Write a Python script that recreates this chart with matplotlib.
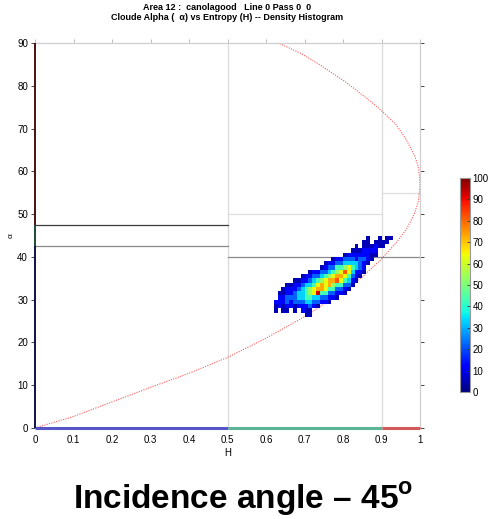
import numpy as np
import matplotlib
matplotlib.use("Agg")
import matplotlib.pyplot as plt

plt.rcParams['font.family'] = ['Liberation Sans', 'DejaVu Sans']
plt.rcParams['mathtext.fontset'] = 'custom'
plt.rcParams['mathtext.rm'] = 'Liberation Sans'
plt.rcParams['mathtext.bf'] = 'Liberation Sans:bold'

# ---- data -------------------------------------------------------------
title_line1 = "Area 12 :  canolagood   Line 0 Pass 0  0"
title_line2 = "Cloude Alpha (  \u03b1) vs Entropy (H) -- Density Histogram"
caption = "Incidence angle \u2013 45"

x_ticks = [0, 0.1, 0.2, 0.3, 0.4, 0.5, 0.6, 0.7, 0.8, 0.9, 1.0]
x_tick_labels = ["0", "0.1", "0.2", "0.3", "0.4", "0.5", "0.6", "0.7", "0.8", "0.9", "1"]
y_ticks = [0, 10, 20, 30, 40, 50, 60, 70, 80, 90]
cbar_ticks = [0, 10, 20, 30, 40, 50, 60, 70, 80, 90, 100]

# feasible-region boundary of the H-alpha plane
boundary_H = [0.0, 0.1, 0.2, 0.3, 0.4, 0.5, 0.6, 0.7, 0.8, 0.85, 0.9,
              0.94, 0.965, 0.985, 0.996, 1.0, 0.997, 0.987, 0.965, 0.939,
              0.902, 0.87, 0.805, 0.74, 0.69, 0.632]
boundary_alpha = [0.0, 2.7, 6.1, 9.5, 12.8, 16.5, 21.0, 26.0, 32.0, 35.3, 39.5,
                  43.5, 46.5, 50.0, 53.0, 56.7, 60.5, 63.5, 67.3, 70.8,
                  74.0, 76.5, 81.0, 84.9, 87.6, 90.0]

# zone boundaries: (H start, H end, alpha, colour)
zone_h_lines = [
    (0.0, 0.5, 47.5, '#3c3c3c'),
    (0.0, 0.5, 42.5, '#8a8a8a'),
    (0.5, 0.9, 50.0, '#dddddd'),
    (0.5, 1.0, 40.0, '#8a8a8a'),
    (0.9, 1.0, 55.0, '#dddddd'),
]
zone_v_lines = [0.5, 0.9]

# density histogram: H bins 0.62..0.93 (0.01), alpha bins 26..45 (1 deg)
hist_H_edges = np.round(np.arange(0.62, 0.9301, 0.01), 3)
hist_alpha_edges = np.arange(26, 46, 1)
# rows listed from alpha 44 down to alpha 26: (first H bin, cell levels)
# '.' empty, digit d -> count level about 10*d (+ a bit)
hist_rows = [
    (24, "0..0.00"),
    (23, "00.0000"),
    (21, "0.000100"),
    (20, "0001111"),
    (18, "011111100"),
    (15, "01122212210"),
    (13, "011223333210"),
    (12, "012244564321"),
    (9, "011223456863110"),
    (7, "0112234567764210"),
    (5, "00112345677864310"),
    (3, "001123346767544220"),
    (2, "011123456776442210"),
    (1, "001123345694422110"),
    (1, "1122233443322110"),
    (0, "111212223322110"),
    (0, "010110111210"),
    (0, "0.00.0.100"),
    (8, "00"),
]
level_value = {'0': 5, '1': 13, '2': 22, '3': 33, '4': 43, '5': 53,
               '6': 63, '7': 73, '8': 82, '9': 92}

# ---- build grid -------------------------------------------------------
n_h = len(hist_H_edges) - 1
n_a = len(hist_alpha_edges) - 1
Z = np.full((n_a, n_h), np.nan)
for i, (start, cells) in enumerate(hist_rows):
    row = n_a - 1 - i
    for j, c in enumerate(cells):
        if c != '.':
            Z[row, start + j] = level_value[c]

# ---- figure -----------------------------------------------------------
fig = plt.figure(figsize=(4.90, 5.19), dpi=100)
ax = fig.add_axes([35 / 490, 1 - 428 / 519, 385 / 490, 385 / 519])
ax.set_xlim(0, 1)
ax.set_ylim(0, 90)

for xv in zone_v_lines:
    ax.plot([xv, xv], [0, 90], color='#dcdcdc', lw=1.0, zorder=1)
for h0, h1, a, col in zone_h_lines:
    ax.plot([h0, h1], [a, a], color=col, lw=0.9, zorder=1)

ax.plot(boundary_H, boundary_alpha, color='#ff2020', lw=0.8,
        linestyle=(0, (1, 1.2)), alpha=0.75, zorder=2)

mesh = ax.pcolormesh(hist_H_edges, hist_alpha_edges, np.ma.masked_invalid(Z),
                     cmap='jet', vmin=0, vmax=100, zorder=3)

# spines
for s in ['top', 'right']:
    ax.spines[s].set_color('#cfcfcf')
    ax.spines[s].set_linewidth(0.9)
ax.spines['left'].set_visible(False)
ax.spines['bottom'].set_visible(False)
# coloured zone indicators along the axes
ax.plot([0, 0.5], [0, 0], color='#5656c8', lw=2.2, clip_on=False, zorder=4, solid_capstyle='butt')
ax.plot([0.5, 0.9], [0, 0], color='#5cb496', lw=2.2, clip_on=False, zorder=4, solid_capstyle='butt')
ax.plot([0.9, 1.0], [0, 0], color='#d25a5a', lw=2.2, clip_on=False, zorder=4, solid_capstyle='butt')
ax.plot([0, 0], [0, 42.5], color='#10104a', lw=1.4, clip_on=False, zorder=4, solid_capstyle='butt')
ax.plot([0, 0], [42.5, 47.5], color='#1a4a3a', lw=1.4, clip_on=False, zorder=4, solid_capstyle='butt')
ax.plot([0, 0], [47.5, 90], color='#4a1010', lw=1.4, clip_on=False, zorder=4, solid_capstyle='butt')

ax.set_xticks(x_ticks)
ax.set_xticklabels(x_tick_labels)
ax.set_yticks(y_ticks)
ax.tick_params(axis='both', labelsize=7, length=3, width=0.7, color='#444444', pad=2)
ax.tick_params(axis='x', top=True, bottom=False, color='#bbbbbb', labeltop=False)
ax.tick_params(axis='y', right=True, left=True)
for t in ax.yaxis.get_ticklines()[1::2]:
    t.set_color('#bbbbbb')

ax.set_xlabel("H", fontsize=7, labelpad=2)
ax.set_ylabel("\u03b1", fontsize=6, labelpad=2)

# colour bar
cax = fig.add_axes([460 / 490, 1 - 392 / 519, 10 / 490, 214 / 519])
cb = fig.colorbar(mesh, cax=cax, ticks=cbar_ticks)
cb.outline.set_edgecolor('#999999')
cb.outline.set_linewidth(0.8)
cax.tick_params(labelsize=7, length=2, width=0.6, direction='in', color='#333333', pad=2)

# titles
fig.text(227 / 490, 1 - 7 / 519, title_line1, ha='center', va='center',
         fontsize=6.5, fontweight='bold')
fig.text(227 / 490, 1 - 17 / 519, title_line2, ha='center', va='center',
         fontsize=6.5, fontweight='bold')
fig.text(243 / 490, 1 - 499 / 519, caption + r"$^{\mathbf{o}}$", ha='center',
         va='center', fontsize=24, fontweight='bold')

fig.savefig("out.png", dpi=100)
